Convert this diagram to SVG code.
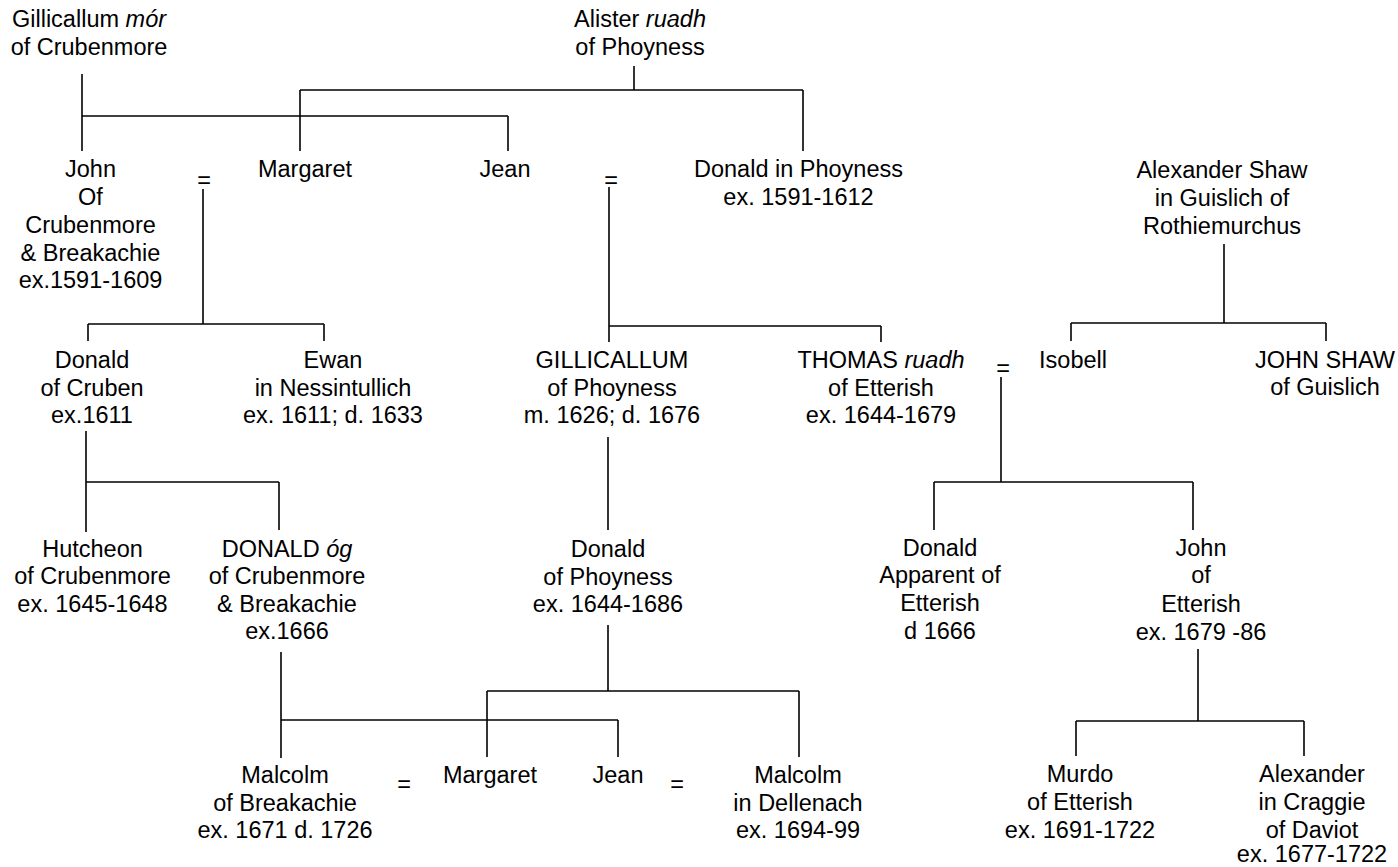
<svg xmlns="http://www.w3.org/2000/svg" width="1398" height="867" viewBox="0 0 1398 867">
<style>
text{font-family:"Liberation Sans",Arial,sans-serif;font-size:23.5px;fill:#000;text-anchor:middle}
.i{font-style:italic}
#connectors line{stroke:#000;stroke-width:1.6;fill:none}
</style>
<rect width="1398" height="867" fill="#fff"/>
<g id="connectors">
<line x1="82" y1="74" x2="82" y2="151"/>
<line x1="82" y1="116" x2="508" y2="116"/>
<line x1="508" y1="116" x2="508" y2="151"/>
<line x1="634" y1="66" x2="634" y2="90"/>
<line x1="300" y1="90" x2="803" y2="90"/>
<line x1="300" y1="90" x2="300" y2="151"/>
<line x1="803" y1="90" x2="803" y2="151"/>
<line x1="203" y1="189" x2="203" y2="324"/>
<line x1="88" y1="324" x2="324" y2="324"/>
<line x1="88" y1="324" x2="88" y2="341"/>
<line x1="324" y1="324" x2="324" y2="341"/>
<line x1="609" y1="187" x2="609" y2="326"/>
<line x1="609" y1="326" x2="881" y2="326"/>
<line x1="609" y1="326" x2="609" y2="342"/>
<line x1="881" y1="326" x2="881" y2="342"/>
<line x1="1224" y1="244" x2="1224" y2="323"/>
<line x1="1071" y1="323" x2="1326" y2="323"/>
<line x1="1071" y1="323" x2="1071" y2="341"/>
<line x1="1326" y1="323" x2="1326" y2="341"/>
<line x1="86" y1="431" x2="86" y2="532"/>
<line x1="86" y1="482" x2="279" y2="482"/>
<line x1="279" y1="482" x2="279" y2="530"/>
<line x1="608" y1="437" x2="608" y2="530"/>
<line x1="1001" y1="377" x2="1001" y2="482"/>
<line x1="934" y1="482" x2="1193" y2="482"/>
<line x1="934" y1="482" x2="934" y2="530"/>
<line x1="1193" y1="482" x2="1193" y2="530"/>
<line x1="281" y1="652" x2="281" y2="758"/>
<line x1="281" y1="720" x2="618" y2="720"/>
<line x1="618" y1="720" x2="618" y2="757"/>
<line x1="608" y1="625" x2="608" y2="691"/>
<line x1="487" y1="691" x2="799" y2="691"/>
<line x1="487" y1="691" x2="487" y2="757"/>
<line x1="799" y1="691" x2="799" y2="757"/>
<line x1="1198" y1="649" x2="1198" y2="721"/>
<line x1="1076" y1="721" x2="1304" y2="721"/>
<line x1="1076" y1="721" x2="1076" y2="756"/>
<line x1="1304" y1="721" x2="1304" y2="756"/>
</g>
<g id="gillicallum-mor"><text x="89" y="27">Gillicallum <tspan class="i">mór</tspan></text><text x="89" y="55">of Crubenmore</text></g>
<g id="alister-ruadh"><text x="640" y="27">Alister <tspan class="i">ruadh</tspan></text><text x="640" y="55">of Phoyness</text></g>
<g id="john-crubenmore"><text x="90.5" y="177">John</text><text x="90.5" y="205">Of</text><text x="90.5" y="233">Crubenmore</text><text x="90.5" y="261">&amp; Breakachie</text><text x="90.5" y="288">ex.1591-1609</text></g>
<g id="eq1"><text x="204" y="188">=</text></g>
<g id="margaret1"><text x="305" y="177">Margaret</text></g>
<g id="jean1"><text x="505" y="177">Jean</text></g>
<g id="eq2"><text x="611" y="188">=</text></g>
<g id="donald-in-phoyness"><text x="798.5" y="177">Donald in Phoyness</text><text x="798.5" y="205">ex. 1591-1612</text></g>
<g id="alexander-shaw"><text x="1222" y="178">Alexander Shaw</text><text x="1222" y="206">in Guislich of</text><text x="1222" y="234">Rothiemurchus</text></g>
<g id="donald-cruben"><text x="92" y="368">Donald</text><text x="92" y="396">of Cruben</text><text x="92" y="423">ex.1611</text></g>
<g id="ewan"><text x="333" y="368">Ewan</text><text x="333" y="396">in Nessintullich</text><text x="333" y="423">ex. 1611; d. 1633</text></g>
<g id="gillicallum-phoyness"><text x="612" y="368">GILLICALLUM</text><text x="612" y="396">of Phoyness</text><text x="612" y="423">m. 1626; d. 1676</text></g>
<g id="thomas-ruadh"><text x="881" y="368">THOMAS <tspan class="i">ruadh</tspan></text><text x="881" y="396">of Etterish</text><text x="881" y="423">ex. 1644-1679</text></g>
<g id="eq3"><text x="1003" y="376">=</text></g>
<g id="isobell"><text x="1073" y="368">Isobell</text></g>
<g id="john-shaw"><text x="1325" y="368">JOHN SHAW</text><text x="1325" y="395">of Guislich</text></g>
<g id="hutcheon"><text x="92.5" y="557">Hutcheon</text><text x="92.5" y="584">of Crubenmore</text><text x="92.5" y="612">ex. 1645-1648</text></g>
<g id="donald-og"><text x="287" y="557">DONALD <tspan class="i">óg</tspan></text><text x="287" y="584">of Crubenmore</text><text x="287" y="612">&amp; Breakachie</text><text x="287" y="639">ex.1666</text></g>
<g id="donald-phoyness"><text x="608" y="557">Donald</text><text x="608" y="585">of Phoyness</text><text x="608" y="612">ex. 1644-1686</text></g>
<g id="donald-apparent"><text x="940" y="556">Donald</text><text x="940" y="583">Apparent of</text><text x="940" y="611">Etterish</text><text x="940" y="639">d 1666</text></g>
<g id="john-etterish"><text x="1201" y="556">John</text><text x="1201" y="583">of</text><text x="1201" y="612">Etterish</text><text x="1201" y="640">ex. 1679 -86</text></g>
<g id="malcolm-breakachie"><text x="285" y="783">Malcolm</text><text x="285" y="811">of Breakachie</text><text x="285" y="838">ex. 1671 d. 1726</text></g>
<g id="eq4"><text x="404" y="792">=</text></g>
<g id="margaret2"><text x="490" y="783">Margaret</text></g>
<g id="jean2"><text x="618" y="783">Jean</text></g>
<g id="eq5"><text x="677" y="792">=</text></g>
<g id="malcolm-dellenach"><text x="798" y="783">Malcolm</text><text x="798" y="811">in Dellenach</text><text x="798" y="838">ex. 1694-99</text></g>
<g id="murdo"><text x="1080" y="782">Murdo</text><text x="1080" y="810">of Etterish</text><text x="1080" y="838">ex. 1691-1722</text></g>
<g id="alexander-craggie"><text x="1312" y="782">Alexander</text><text x="1312" y="810">in Craggie</text><text x="1312" y="838">of Daviot</text><text x="1312" y="862">ex. 1677-1722</text></g>
</svg>
